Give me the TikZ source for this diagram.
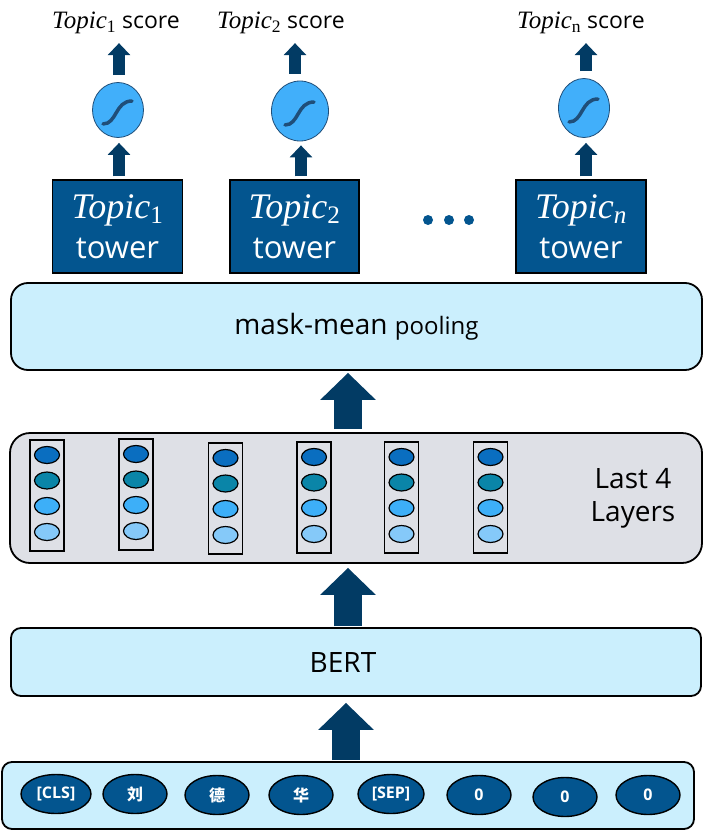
\RequirePackage{fix-cm}
\documentclass[tikz,border=0pt]{standalone}
\usepackage{fontspec}
\setmainfont{Open Sans}
\newfontfamily\cjk{Noto Sans CJK SC}
\newfontfamily\tserif{Liberation Serif}
\newcommand{\topicname}[1]{{\tserif\itshape Topic}\textsubscript{\tserif #1}}
\usetikzlibrary{arrows.meta,shapes.geometric,calc}
\definecolor{arrowc}{HTML}{023B64}
\definecolor{lightb}{HTML}{CBEFFD}
\definecolor{greyb}{HTML}{DEE0E6}
\definecolor{towerc}{HTML}{03558F}
\definecolor{sigc}{HTML}{41AFFA}
\definecolor{sigline}{HTML}{1F4E79}
\definecolor{ca}{HTML}{0A6EC0}
\definecolor{cb}{HTML}{0A85A8}
\definecolor{cc}{HTML}{3DAFF8}
\definecolor{cd}{HTML}{85C9F9}
\begin{document}
\begin{tikzpicture}[x=1pt,y=-1pt,
  panel/.style={draw=black, line width=1.8pt, rounded corners=#1, inner sep=0pt},
  towerbox/.style={draw=black, line width=1.5pt, fill=towerc, text=white, minimum width=130pt, minimum height=93pt, inner sep=0pt, align=center, font=\fontsize{31}{40}\selectfont},
  sigbox/.style={ellipse, draw=sigline, line width=0.8pt, fill=sigc, inner sep=0pt},
  sigcurve/.style={draw=sigline, line width=3.5pt, line cap=round},
  scorelabel/.style={inner sep=0pt, font=\fontsize{23}{23}\selectfont},
  smallarrow/.style={draw=arrowc, line width=12pt, -{Triangle[width=22pt,length=12pt]}},
  bigarrow/.style={draw=arrowc, line width=28pt, -{Triangle[width=54pt,length=27pt]}},
  colbox/.style={draw=black, line width=1.4pt, minimum width=34pt, minimum height=111pt, inner sep=0pt},
  dotnode/.style={ellipse, draw=black, line width=1.2pt, minimum width=25pt, minimum height=17pt, inner sep=0pt},
  tok/.style={ellipse, draw=black, line width=1.4pt, fill=towerc, text=white, minimum width=64pt, minimum height=39pt, inner sep=0pt, font=\bfseries\fontsize{16}{16}\selectfont},
  bigtext/.style={inner sep=0pt, font=\fontsize{28}{33}\selectfont, align=center}
]
\useasboundingbox (0,0) rectangle (712,832);

% panels
\node[panel=17pt, fill=lightb, minimum width=691pt, minimum height=87pt] (pool) at (356.5,326.5)
  {{\fontsize{28}{28}\selectfont mask-mean }{\fontsize{24}{24}\selectfont pooling}};
\node[panel=20pt, fill=greyb, minimum width=692pt, minimum height=130pt] (layers) at (356,498) {};
\node[panel=10pt, fill=lightb, minimum width=690pt, minimum height=68pt] (bert) at (356,662) {};
\node[panel=10pt, fill=lightb, minimum width=692pt, minimum height=67pt] (toks) at (348,795.5) {};

\node[bigtext] (berttxt) at (343,662) {BERT};
\node[bigtext] (lasttxt) at (633,498) {Last 4\\Layers};

% layer columns
\foreach \i/\x/\t in {1/47/440, 2/136/439, 3/225.5/443, 4/314/442, 5/401.5/442, 6/490.5/442}{
  \node[colbox] (col\i) at (\x,\t+55.5) {};
  \node[dotnode, fill=ca] (d\i a) at (\x,\t+15) {};
  \node[dotnode, fill=cb] (d\i b) at (\x,\t+40.5) {};
  \node[dotnode, fill=cc] (d\i c) at (\x,\t+66) {};
  \node[dotnode, fill=cd] (d\i d) at (\x,\t+92) {};
}

% tokens
\node[tok, minimum width=70pt] (k1) at (56,794) {[CLS]};
\node[tok] (k2) at (135,794) {\cjk\bfseries 刘};
\node[tok] (k3) at (217,795) {\cjk\bfseries 德};
\node[tok] (k4) at (301,795) {\cjk\bfseries 华};
\node[tok, minimum width=66pt] (k5) at (391,794) {[SEP]};
\node[tok] (k6) at (479,795) {0};
\node[tok] (k7) at (565,797) {0};
\node[tok] (k8) at (648,795) {0};

% towers
\node[towerbox] (t1) at (117.5,226.5) {{\fontsize{36}{40}\selectfont\topicname{1}}\\tower};
\node[towerbox, minimum width=129pt] (t2) at (294.5,226.5) {{\fontsize{36}{40}\selectfont\topicname{2}}\\tower};
\node[towerbox] (t3) at (581,226.5) {{\fontsize{36}{40}\selectfont\topicname{\itshape n}}\\tower};

\fill[towerc] (428,220) circle (5pt);
\fill[towerc] (449,220) circle (5pt);
\fill[towerc] (469,220) circle (5pt);

% sigmoids
\node[sigbox, minimum width=51pt, minimum height=55pt] (s1) at (118,110) {};
\node[sigbox, minimum width=57pt, minimum height=60pt] (s2) at (300,111) {};
\node[sigbox, minimum width=51pt, minimum height=59pt] (s3) at (584,108) {};
\foreach \s in {s1,s2,s3}{
  \draw[sigcurve] ($(\s)+(-15,14)$) .. controls ($(\s)+(-1,14)$) and ($(\s)+(-3,-9)$) .. ($(\s)+(14,-9)$);
}

% labels
\node[scorelabel] (l1) at (116,23) {{\fontsize{25}{25}\selectfont\topicname{1}} score};
\node[scorelabel] (l2) at (281,23) {{\fontsize{25}{25}\selectfont\topicname{2}} score};
\node[scorelabel] (l3) at (581,23) {{\fontsize{25}{25}\selectfont\topicname{n}} score};

% small arrows
\draw[smallarrow] ([xshift=1.5pt,yshift=3pt]t1.north) -- ([xshift=1pt,yshift=-5pt]s1.south);
\draw[smallarrow] ([xshift=6.5pt,yshift=3pt]t2.north) -- ([xshift=1pt,yshift=-4pt]s2.south);
\draw[smallarrow] ([xshift=5pt,yshift=3pt]t3.north) -- ([xshift=2pt,yshift=-5pt]s3.south);
\draw[smallarrow] ([xshift=1pt,yshift=7pt]s1.north) -- ([xshift=3pt,yshift=-9pt]l1.south);
\draw[smallarrow] ([xshift=-5pt,yshift=7pt]s2.north) -- ([xshift=14pt,yshift=-9pt]l2.south);
\draw[smallarrow] ([xshift=2pt,yshift=7pt]s3.north) -- ([xshift=5pt,yshift=-9pt]l3.south);

% big arrows
\draw[bigarrow] ([xshift=-8pt,yshift=3pt]layers.north) -- ([xshift=-8.5pt,yshift=-2pt]pool.south);
\draw[bigarrow] ([xshift=-8pt,yshift=1pt]bert.north) -- ([xshift=-8pt,yshift=-4pt]layers.south);
\draw[bigarrow] ([xshift=-2pt,yshift=1pt]toks.north) -- ([xshift=-10pt,yshift=-6pt]bert.south);
\end{tikzpicture}
\end{document}
